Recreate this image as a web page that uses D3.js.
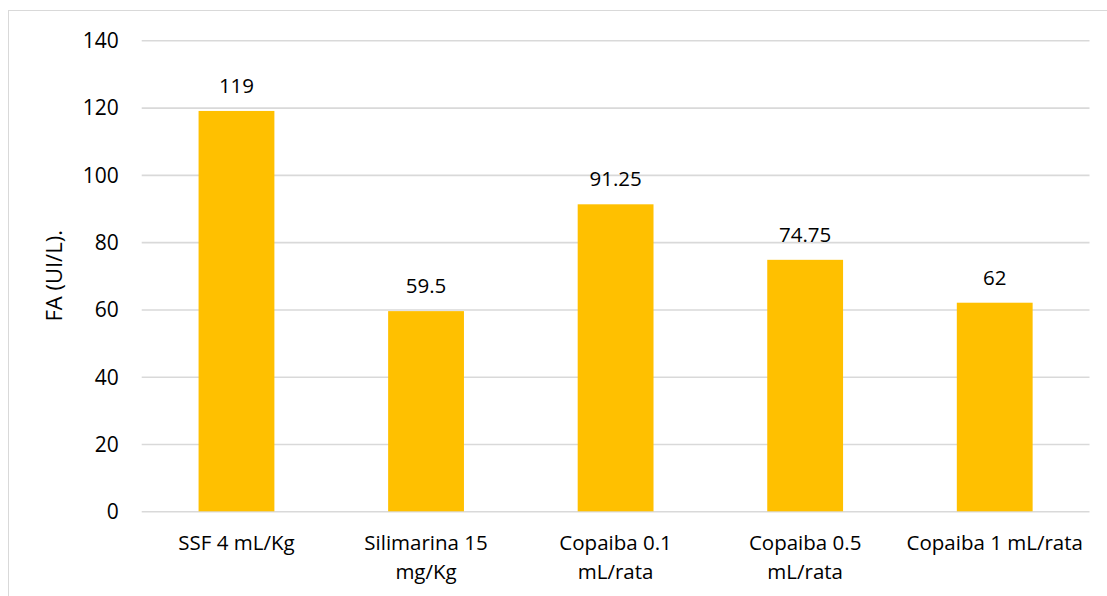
<!DOCTYPE html>
<html>
<head>
<meta charset="utf-8">
<script src="https://cdn.jsdelivr.net/npm/d3@7/dist/d3.min.js"></script>
<style>
  html, body { margin: 0; padding: 0; background: #fff; }
  svg { display: block; }
  text { font-family: "Open Sans", "Liberation Sans", sans-serif; fill: #000; }
</style>
</head>
<body>
<svg id="chart" width="1107" height="596"></svg>
<script>
// FA (UI/L) per treatment group
const categories = [
  "SSF 4 mL/Kg",
  "Silimarina 15 mg/Kg",
  "Copaiba 0.1 mL/rata",
  "Copaiba 0.5 mL/rata",
  "Copaiba 1 mL/rata"
];
const values = [119, 59.5, 91.25, 74.75, 62];
const valueLabels = ["119", "59.5", "91.25", "74.75", "62"];
const yTicks = [0, 20, 40, 60, 80, 100, 120, 140];
const yTitle = "FA (UI/L).";

const plot = { left: 141.7, right: 1089.5, top: 40.3, bottom: 511.3 };
const fontSize = 20.5;

const svg = d3.select("#chart");

// chart frame
svg.append("rect")
  .attr("x", 8.5).attr("y", 10.5)
  .attr("width", 1300).attr("height", 800)
  .attr("fill", "none")
  .attr("stroke", "#d9d9d9")
  .attr("stroke-width", 1);

const x = d3.scaleBand()
  .domain(categories)
  .range([plot.left, plot.right])
  .paddingInner(0.6)
  .paddingOuter(0.3);

const y = d3.scaleLinear()
  .domain([0, 140])
  .range([plot.bottom, plot.top]);

// horizontal gridlines and value axis labels
const yAxis = d3.axisLeft(y)
  .tickValues(yTicks)
  .tickSize(-(plot.right - plot.left))
  .tickPadding(23)
  .tickFormat(d3.format("d"));

const gy = svg.append("g")
  .attr("transform", `translate(${plot.left},0)`)
  .call(yAxis);
gy.select(".domain").remove();
gy.selectAll(".tick line")
  .attr("stroke", "#d9d9d9")
  .attr("stroke-width", 1.6);
gy.selectAll(".tick text")
  .attr("font-size", 21)
  .attr("font-family", "'Open Sans', 'Liberation Sans', sans-serif")
  .attr("fill", "#000")
  .attr("dy", "0.35em");

// bars
svg.append("g")
  .selectAll("rect")
  .data(values)
  .join("rect")
  .attr("x", (d, i) => x(categories[i]))
  .attr("y", d => y(d))
  .attr("width", x.bandwidth())
  .attr("height", d => y(0) - y(d))
  .attr("fill", "#ffc000");

// value labels above bars
svg.append("g")
  .selectAll("text")
  .data(values)
  .join("text")
  .attr("x", (d, i) => x(categories[i]) + x.bandwidth() / 2)
  .attr("y", d => y(d) - 18)
  .attr("text-anchor", "middle")
  .attr("font-size", fontSize)
  .text((d, i) => valueLabels[i]);

// category axis labels, wrapped to the band step
const measure = svg.append("text").attr("font-size", fontSize).attr("visibility", "hidden");
function wrap(label, maxWidth) {
  const words = label.split(" ");
  const lines = [];
  let line = "";
  words.forEach(w => {
    const test = line ? line + " " + w : w;
    measure.text(test);
    if (line && measure.node().getComputedTextLength() > maxWidth) {
      lines.push(line);
      line = w;
    } else {
      line = test;
    }
  });
  if (line) lines.push(line);
  return lines;
}

const catG = svg.append("g");
categories.forEach(c => {
  const lines = wrap(c, x.step());
  const t = catG.append("text")
    .attr("text-anchor", "middle")
    .attr("font-size", fontSize);
  lines.forEach((ln, k) => {
    t.append("tspan")
      .attr("x", x(c) + x.bandwidth() / 2)
      .attr("y", 550 + k * 29)
      .text(ln);
  });
});
measure.remove();

// value axis title
svg.append("text")
  .attr("transform", `translate(62,${(plot.top + plot.bottom) / 2}) rotate(-90)`)
  .attr("text-anchor", "middle")
  .attr("font-size", 22)
  .text(yTitle);
</script>
</body>
</html>
